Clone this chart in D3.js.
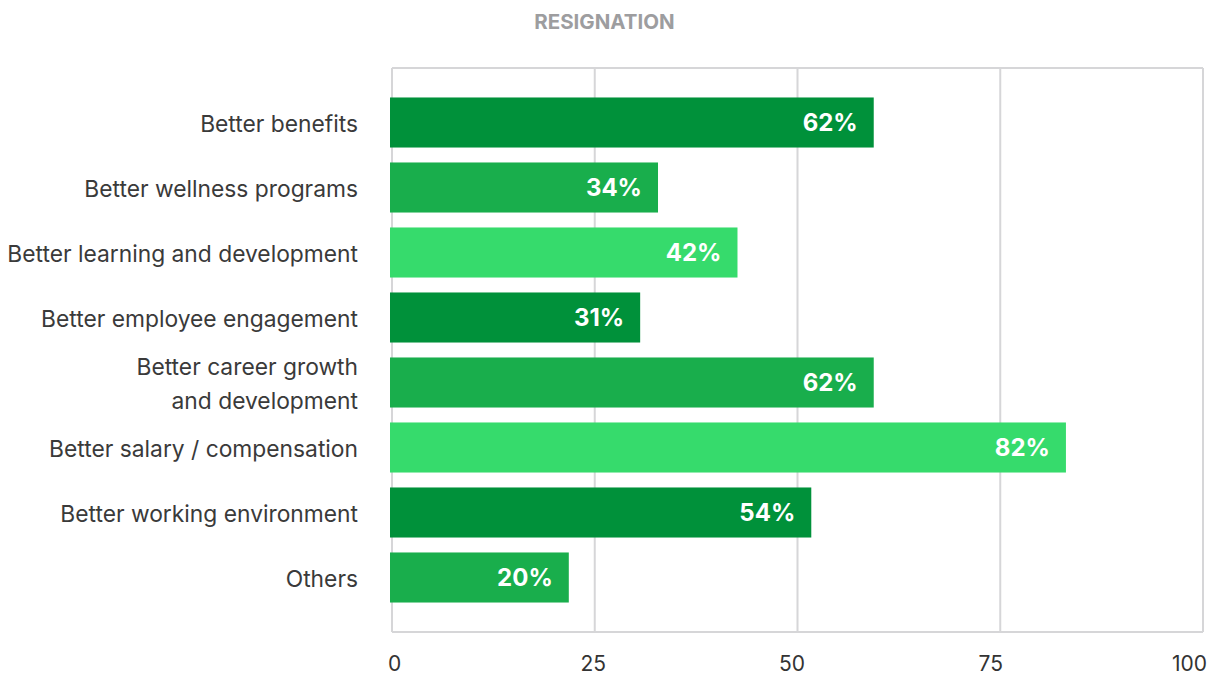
<!DOCTYPE html>
<html><head><meta charset="utf-8">
<script src="https://cdn.jsdelivr.net/npm/d3@7"></script>
<style>
html,body{margin:0;padding:0;background:#fff;}
svg{display:block;}
</style></head>
<body>
<svg id="chart" width="1217" height="677"></svg>
<script>
const title = "RESIGNATION";
const categories = [
  ["Better benefits"],
  ["Better wellness programs"],
  ["Better learning and development"],
  ["Better employee engagement"],
  ["Better career growth", "and development"],
  ["Better salary / compensation"],
  ["Better working environment"],
  ["Others"]
];
const barValues = [59.4, 32.8, 42.6, 30.6, 59.4, 83.1, 51.7, 21.8];
const valueLabels = ["62%", "34%", "42%", "31%", "62%", "82%", "54%", "20%"];
const barColors = ["#00913A", "#19AE4C", "#36DB6C", "#00913A", "#19AE4C", "#36DB6C", "#00913A", "#19AE4C"];
const xTicks = [0, 25, 50, 75, 100];

const svg = d3.select("#chart");
const mLeft = 392, mRight = 1203, mTop = 68, mBottom = 632;
const font = "Inter, 'Open Sans', sans-serif";

const x = d3.scaleLinear().domain([0, 100]).range([mLeft, mRight]);
// tick labels are laid out on a slightly narrower span than the grid
const xLab = d3.scaleLinear().domain([0, 100]).range([394, 1189]);
const y = d3.scaleBand().domain(d3.range(categories.length)).range([mTop, mBottom])
  .paddingInner(0.23).paddingOuter(0.4535);

svg.append("text").attr("x", 604.5).attr("y", 29).attr("text-anchor", "middle")
  .attr("font-family", font).attr("font-weight", 700).attr("font-size", 20.5)
  .attr("fill", "#9d9d9f").text(title);

// grid
const grid = svg.append("g");
grid.selectAll("line.v").data(xTicks).join("line")
  .attr("x1", d => x(d)).attr("x2", d => x(d)).attr("y1", mTop).attr("y2", mBottom)
  .attr("stroke", "#d6d6d8").attr("stroke-width", 2);
grid.append("line").attr("x1", mLeft).attr("x2", mRight).attr("y1", mTop).attr("y2", mTop)
  .attr("stroke", "#d6d6d8").attr("stroke-width", 2);
grid.append("line").attr("x1", mLeft).attr("x2", mRight).attr("y1", mBottom).attr("y2", mBottom)
  .attr("stroke", "#d6d6d8").attr("stroke-width", 2);

// x axis labels
const xAxis = svg.append("g").attr("transform", `translate(0,${mBottom})`)
  .call(d3.axisBottom(xLab).tickValues(xTicks).tickSize(0).tickPadding(24));
xAxis.select(".domain").remove();
xAxis.selectAll("text").attr("font-family", font).attr("font-size", 21).attr("fill", "#333");

// bars
svg.selectAll("rect.bar").data(barValues).join("rect")
  .attr("x", x(0) - 2).attr("y", (d, i) => y(i))
  .attr("width", d => x(d) - x(0) + 2).attr("height", y.bandwidth())
  .attr("fill", (d, i) => barColors[i]);

// value labels
svg.selectAll("text.val").data(barValues).join("text")
  .attr("x", d => x(d) - 16).attr("y", (d, i) => y(i) + y.bandwidth() / 2)
  .attr("dy", "0.37em").attr("text-anchor", "end")
  .attr("font-family", font).attr("font-weight", 700).attr("font-size", 24)
  .attr("fill", "#fff").text((d, i) => valueLabels[i]);

// category labels
const cat = svg.selectAll("text.cat").data(categories).join("text")
  .attr("text-anchor", "end").attr("font-family", font).attr("font-size", 22.8)
  .attr("fill", "#3a3a3a");
cat.each(function(lines, i) {
  const cy = y(i) + y.bandwidth() / 2;
  const lh = 34;
  const y0 = cy - (lines.length - 1) * lh / 2;
  d3.select(this).selectAll("tspan").data(lines).join("tspan")
    .attr("x", 358).attr("y", (d, j) => y0 + j * lh).attr("dy", "0.4em").text(d => d);
});
</script>
</body></html>
